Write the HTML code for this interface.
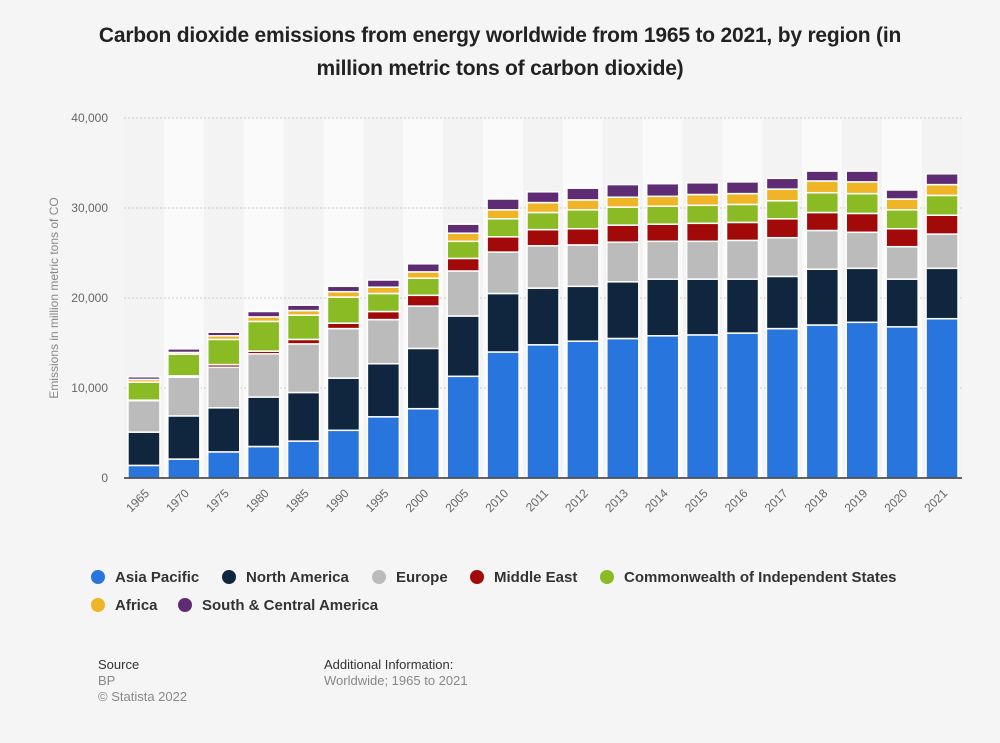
<!DOCTYPE html>
<html><head><meta charset="utf-8">
<style>
body{margin:0;background:#f5f5f5;font-family:"Liberation Sans",sans-serif;}
#wrap{position:relative;width:1000px;height:743px;overflow:hidden;background:#f5f5f5;}
.title{position:absolute;top:19px;left:85px;width:830px;text-align:center;font-weight:bold;font-size:21px;line-height:33px;letter-spacing:-0.2px;color:#222;}
.foot{position:absolute;font-size:13px;line-height:16px;}
</style></head><body>
<div id="wrap">
<div class="title">Carbon dioxide emissions from energy worldwide from 1965 to 2021, by region (in million metric tons of carbon dioxide)</div>
<svg id="chart" width="1000" height="743" style="position:absolute;left:0;top:0"></svg>
<div class="foot" style="left:98px;top:657px;color:#333">Source</div>
<div class="foot" style="left:98px;top:673px;color:#888">BP<br>© Statista 2022</div>
<div class="foot" style="left:324px;top:657px;color:#333">Additional Information:</div>
<div class="foot" style="left:324px;top:673px;color:#888">Worldwide; 1965 to 2021</div>
</div>
<script>
const categories=["1965","1970","1975","1980","1985","1990","1995","2000","2005","2010","2011","2012","2013","2014","2015","2016","2017","2018","2019","2020","2021"];
const seriesNames=["Asia Pacific","North America","Europe","Middle East","Commonwealth of Independent States","Africa","South & Central America"];
const asiaPacific=[1.4,2.1,2.9,3.5,4.1,5.3,6.8,7.7,11.3,14.0,14.8,15.2,15.5,15.8,15.9,16.1,16.6,17.0,17.3,16.8,17.7];
const northAmerica=[3.7,4.8,4.9,5.5,5.4,5.8,5.9,6.7,6.7,6.5,6.3,6.1,6.3,6.3,6.2,6.0,5.8,6.2,6.0,5.3,5.6];
const europe=[3.5,4.3,4.5,4.8,5.4,5.5,4.9,4.7,5.0,4.6,4.7,4.6,4.4,4.2,4.2,4.3,4.3,4.3,4.0,3.6,3.8];
const middleEast=[0.05,0.15,0.3,0.3,0.5,0.6,0.9,1.2,1.4,1.7,1.8,1.8,1.9,1.9,2.0,2.0,2.1,2.0,2.1,2.0,2.1];
const cis=[2.0,2.4,2.8,3.3,2.7,2.9,2.0,1.9,1.9,2.0,1.9,2.1,2.0,2.0,2.0,2.0,2.0,2.2,2.2,2.1,2.2];
const africa=[0.3,0.2,0.4,0.5,0.5,0.6,0.7,0.7,0.9,1.0,1.1,1.1,1.1,1.1,1.2,1.2,1.3,1.3,1.3,1.2,1.2];
const southCentral=[0.3,0.4,0.4,0.6,0.6,0.6,0.8,0.9,1.0,1.2,1.2,1.3,1.4,1.4,1.3,1.3,1.2,1.1,1.2,1.0,1.2];
const yTicks=[0,10000,20000,30000,40000];
const yTickLabels=["0","10,000","20,000","30,000","40,000"];
const colors=["#2876dd","#10263e","#bbbbbb","#a20a0a","#8aba24","#efb526","#5e2c73"];
const series=[asiaPacific,northAmerica,europe,middleEast,cis,africa,southCentral];
const svg=document.getElementById('chart');const NS="http://www.w3.org/2000/svg";
function mk(t,a,p){const e=document.createElementNS(NS,t);for(const k in a)e.setAttribute(k,a[k]);(p||svg).appendChild(e);return e;}
const L=124,R=962,T=118,B=478,maxV=40000;
const y=v=>B-(v/maxV)*(B-T);
const step=(R-L)/categories.length;
const xc=i=>L+step*(i+0.5);
const bw=32;
categories.forEach((c,i)=>{const r=mk('rect',{x:L+step*i,y:T,width:step,height:B-T,fill:i%2?'#fafafa':'#f3f3f3'});

});
yTicks.forEach((t,i)=>{
 if(t>0){const g=mk('line',{x1:L,x2:R,y1:y(t),y2:y(t),stroke:'#cccccc','stroke-dasharray':'2,2','stroke-width':1});
 
 }
 const tx=mk('text',{x:108,y:y(t)+4,'text-anchor':'end','font-size':12,fill:'#666'});tx.textContent=yTickLabels[i];
 
 
});
categories.forEach((c,i)=>{
 let cum=0;
 series.forEach((s,k)=>{
  const v=s[i]*1000;const y0=y(cum),y1=y(cum+v);cum+=v;
  const r=mk('rect',{x:xc(i)-bw/2,y:y1,width:bw,height:Math.max(0,y0-y1),fill:colors[k],stroke:'#fff','stroke-width':1.5});
  
  
 });
 const tx=mk('text',{x:xc(i)+6,y:494,'text-anchor':'end','font-size':12,fill:'#666',transform:`rotate(-45 ${xc(i)+6} 494)`});tx.textContent=c;
 
 
});
const ax=mk('line',{x1:L,x2:R,y1:B,y2:B,stroke:'#333','stroke-width':1.5});


const yt=mk('text',{x:58,y:298,'text-anchor':'middle','font-size':12,fill:'#888',transform:'rotate(-90 58 298)'});yt.textContent='Emissions in million metric tons of CO';


const legPos=[[98,577],[229,577],[379,577],[477,577],[607,577],[98,605],[185,605]];
seriesNames.forEach((n,k)=>{
 const g=mk('g',{});
 
 
 mk('circle',{cx:legPos[k][0],cy:legPos[k][1],r:7,fill:colors[k]},g);
 const t=mk('text',{x:legPos[k][0]+17,y:legPos[k][1]+5,'font-size':15,'font-weight':'bold',fill:'#333'},g);t.textContent=n;
});
</script>
</body></html>
